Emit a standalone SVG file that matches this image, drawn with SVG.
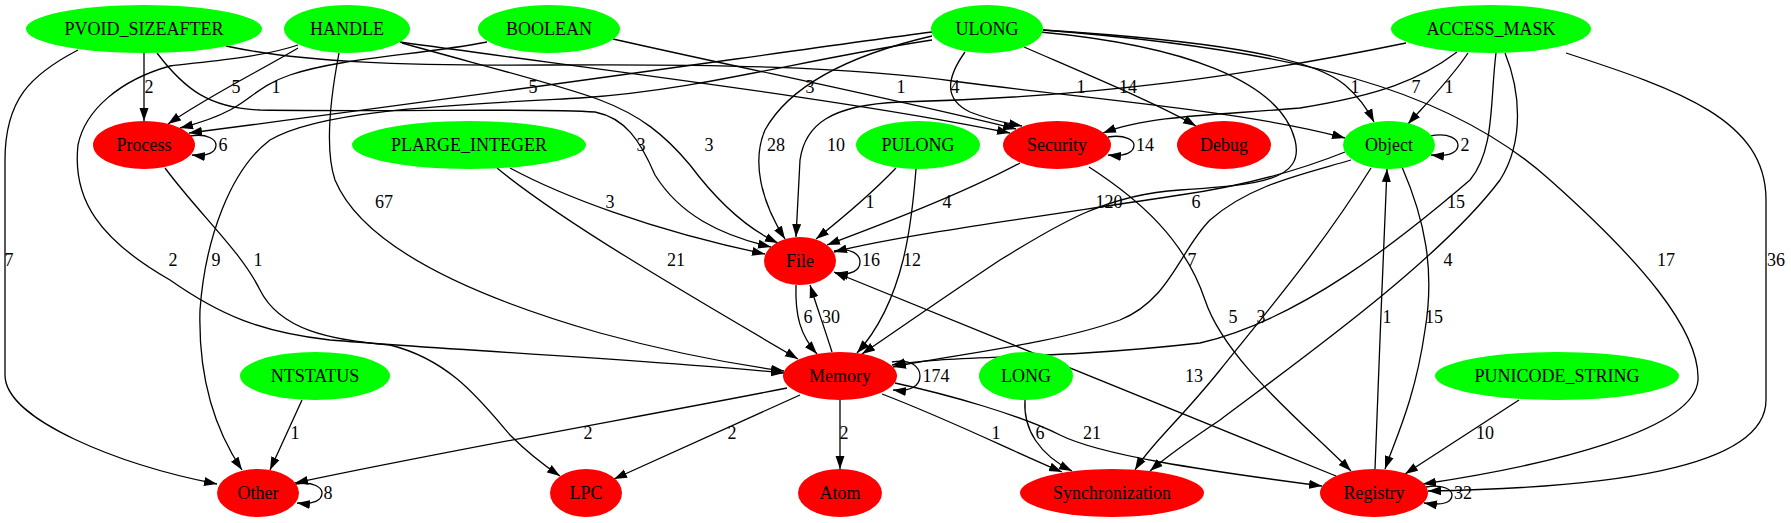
<svg xmlns="http://www.w3.org/2000/svg" width="1791" height="523" viewBox="0 0 1791 523">
<style>
text { font-family: "Liberation Serif", "Times New Roman", serif; font-size: 18px; text-anchor: middle; fill: #000; }
.g { fill: #00ff00; }
.r { fill: #ff0000; }
#edges path { fill: none; stroke: #000; stroke-width: 1.3; marker-end: url(#a); }
</style>
<defs>
<marker id="a" markerUnits="userSpaceOnUse" markerWidth="14" markerHeight="10" refX="13" refY="5" orient="auto">
<path d="M0,0.5 L13,5 L0,9.5 z" fill="#000"/>
</marker>
</defs>
<rect width="1791" height="523" fill="#fff"/>
<g id="edges">
<path d="M144,53 L144,121"/>
<path d="M78,50 C30,75 5,100 5,160 L5,375 C5,420 120,465 217,484"/>
<path d="M157,53 C185,90 210,108 260,110 C400,112 540,108 595,112 C625,118 640,140 655,175 C680,215 720,235 771,247"/>
<path d="M226,46 C300,62 400,66 550,65 C700,64 850,66 960,82 C1100,100 1250,112 1345,138"/>
<path d="M298,48 C265,68 210,95 168,124"/>
<path d="M298,45 C260,58 200,62 170,66 C120,80 85,110 78,145 C72,200 100,240 170,280 C220,315 260,332 330,340 C450,350 650,360 784,373"/>
<path d="M339,53 C330,100 325,150 335,180 C360,240 450,290 600,333 C680,355 740,365 784,371"/>
<path d="M487,42 C420,55 340,58 290,75 C260,85 250,100 230,110 C215,118 200,123 180,128"/>
<path d="M932,32 C780,52 560,85 189,133"/>
<path d="M932,40 C800,60 700,90 580,98 C450,105 320,110 270,140 C230,170 205,240 200,310 C198,380 215,430 242,470"/>
<path d="M400,42 C600,70 850,100 1010,133"/>
<path d="M402,43 C480,65 560,85 600,100 C640,115 665,135 690,165 C720,205 750,230 778,243"/>
<path d="M932,36 C850,55 790,85 765,130 C752,160 760,200 785,239"/>
<path d="M1406,43 C1250,75 1100,97 900,102 C830,105 805,125 800,160 L796,237"/>
<path d="M1457,52 C1420,80 1380,95 1300,108 C1220,115 1150,115 1103,133"/>
<path d="M1468,53 C1450,80 1425,105 1408,124"/>
<path d="M1043,30 C1200,40 1310,55 1345,85 C1360,98 1368,110 1374,122"/>
<path d="M1024,47 C1100,80 1160,105 1196,126"/>
<path d="M965,52 C945,80 945,100 970,112 C985,118 1000,122 1022,126"/>
<path d="M613,39 C750,70 900,100 1016,129"/>
<path d="M1040,32 C1180,45 1280,80 1295,140 C1305,180 1260,185 1180,190 C1100,195 1050,230 1000,260 C940,300 890,335 862,354"/>
<path d="M1043,30 C1300,50 1450,90 1550,180 C1640,260 1700,330 1698,380 C1695,430 1550,465 1423,484"/>
<path d="M1566,53 C1680,90 1766,120 1766,200 L1766,400 C1766,470 1600,488 1428,491"/>
<path d="M1496,53 C1490,100 1495,150 1470,180 C1400,240 1300,320 1200,343 C1050,360 950,355 892,365"/>
<path d="M1351,160 C1300,175 1250,185 1210,220 C1180,250 1170,300 1120,320 C1050,345 950,355 893,367"/>
<path d="M1345,152 C1300,170 1250,185 1180,195 C1050,215 900,235 834,252"/>
<path d="M1020,163 C960,195 880,225 827,245"/>
<path d="M896,168 C870,195 840,220 816,239"/>
<path d="M916,169 C912,220 905,300 857,353"/>
<path d="M510,168 C560,195 650,230 765,254"/>
<path d="M497,168 C560,220 680,290 798,359"/>
<path d="M796,285 C795,315 800,335 817,354"/>
<path d="M832,352 C825,330 818,310 810,285"/>
<path d="M1336,476 C1200,420 1000,340 834,272"/>
<path d="M834,251 C852,247 860,255 860,262 C860,270 852,276 835,273"/>
<path d="M892,362 C912,358 920,368 920,376 C920,386 910,392 893,390"/>
<path d="M190,136 C208,133 216,140 216,145 C216,152 208,157 192,155"/>
<path d="M1108,137 C1126,134 1134,141 1134,145 C1134,152 1126,157 1108,155"/>
<path d="M1430,136 C1450,132 1458,140 1458,145 C1458,152 1450,157 1431,155"/>
<path d="M296,484 C314,481 322,488 322,493 C322,500 314,505 297,503"/>
<path d="M1426,487 C1444,484 1452,490 1452,495 C1452,502 1444,506 1424,503"/>
<path d="M1375,469 C1378,400 1383,250 1387,169"/>
<path d="M1402,167 C1425,220 1435,270 1425,330 C1415,400 1395,440 1385,469"/>
<path d="M1371,168 C1320,250 1260,320 1220,370 C1180,420 1150,445 1135,470"/>
<path d="M1505,53 C1520,90 1525,140 1500,180 C1440,260 1300,360 1220,420 C1190,440 1165,458 1150,471"/>
<path d="M1089,167 C1140,200 1185,240 1205,300 C1225,360 1300,420 1351,471"/>
<path d="M895,383 C950,395 1020,415 1060,435 C1100,455 1200,470 1322,486"/>
<path d="M882,394 C950,420 1010,450 1062,472"/>
<path d="M1025,400 C1023,430 1040,455 1072,471"/>
<path d="M800,395 L614,479"/>
<path d="M840,400 L840,469"/>
<path d="M787,388 C650,415 450,450 295,483"/>
<path d="M302,400 L270,470"/>
<path d="M1519,400 L1405,474"/>
<path d="M165,168 C200,215 240,250 260,290 C280,330 330,340 390,345 C450,360 480,400 510,435 C530,455 545,466 560,476"/>
</g>
<g id="edge-labels">
<text x="149" y="93">2</text><text x="236" y="93">5</text><text x="276" y="93">1</text><text x="533" y="93">5</text>
<text x="810" y="93">3</text><text x="901" y="93">1</text><text x="955" y="93">4</text><text x="1081" y="93">1</text>
<text x="1128" y="93">14</text><text x="1355" y="93">1</text><text x="1416" y="93">7</text><text x="1449" y="93">1</text>
<text x="223" y="151">6</text><text x="641" y="151">3</text><text x="709" y="151">3</text><text x="776" y="151">28</text>
<text x="836" y="151">10</text><text x="1145" y="151">14</text><text x="1465" y="151">2</text>
<text x="384" y="208">67</text><text x="610" y="208">3</text><text x="870" y="208">1</text><text x="947" y="208">4</text>
<text x="1109" y="208">120</text><text x="1196" y="208">6</text><text x="1456" y="208">15</text>
<text x="9" y="266">7</text><text x="173" y="266">2</text><text x="216" y="266">9</text><text x="258" y="266">1</text>
<text x="676" y="266">21</text><text x="871" y="266">16</text><text x="912" y="266">12</text><text x="1192" y="266">7</text>
<text x="1448" y="266">4</text><text x="1666" y="266">17</text><text x="1776" y="266">36</text>
<text x="808" y="323">6</text><text x="831" y="323">30</text><text x="1233" y="323">5</text><text x="1261" y="323">3</text>
<text x="1387" y="323">1</text><text x="1434" y="323">15</text>
<text x="936" y="382">174</text><text x="1194" y="382">13</text>
<text x="295" y="439">1</text><text x="588" y="439">2</text><text x="732" y="439">2</text><text x="844" y="439">2</text>
<text x="996" y="439">1</text><text x="1040" y="439">6</text><text x="1092" y="439">21</text><text x="1485" y="439">10</text>
<text x="328" y="499">8</text><text x="1463" y="499">32</text>
</g>
<g id="PVOID_SIZEAFTER"><ellipse class="g" cx="144" cy="29" rx="118" ry="24"/><text x="144" y="35">PVOID_SIZEAFTER</text></g>
<g id="HANDLE"><ellipse class="g" cx="347" cy="29" rx="63" ry="24"/><text x="347" y="35">HANDLE</text></g>
<g id="BOOLEAN"><ellipse class="g" cx="549" cy="29" rx="71" ry="24"/><text x="549" y="35">BOOLEAN</text></g>
<g id="ULONG"><ellipse class="g" cx="987" cy="29" rx="56" ry="24"/><text x="987" y="35">ULONG</text></g>
<g id="ACCESS_MASK"><ellipse class="g" cx="1491" cy="29" rx="100" ry="24"/><text x="1491" y="35">ACCESS_MASK</text></g>
<g id="Process"><ellipse class="r" cx="144" cy="145" rx="51" ry="24"/><text x="144" y="151">Process</text></g>
<g id="PLARGE_INTEGER"><ellipse class="g" cx="469" cy="145" rx="117" ry="24"/><text x="469" y="151">PLARGE_INTEGER</text></g>
<g id="PULONG"><ellipse class="g" cx="918" cy="145" rx="62" ry="24"/><text x="918" y="151">PULONG</text></g>
<g id="Security"><ellipse class="r" cx="1057" cy="145" rx="54" ry="24"/><text x="1057" y="151">Security</text></g>
<g id="Debug"><ellipse class="r" cx="1224" cy="145" rx="47" ry="24"/><text x="1224" y="151">Debug</text></g>
<g id="Object"><ellipse class="g" cx="1389" cy="145" rx="46" ry="24"/><text x="1389" y="151">Object</text></g>
<g id="File"><ellipse class="r" cx="800" cy="261" rx="36" ry="24"/><text x="800" y="267">File</text></g>
<g id="NTSTATUS"><ellipse class="g" cx="315" cy="376" rx="75" ry="24"/><text x="315" y="382">NTSTATUS</text></g>
<g id="Memory"><ellipse class="r" cx="840" cy="376" rx="57" ry="24"/><text x="840" y="382">Memory</text></g>
<g id="LONG"><ellipse class="g" cx="1026" cy="376" rx="47" ry="24"/><text x="1026" y="382">LONG</text></g>
<g id="PUNICODE_STRING"><ellipse class="g" cx="1557" cy="376" rx="122" ry="24"/><text x="1557" y="382">PUNICODE_STRING</text></g>
<g id="Other"><ellipse class="r" cx="258" cy="493" rx="41" ry="24"/><text x="258" y="499">Other</text></g>
<g id="LPC"><ellipse class="r" cx="586" cy="493" rx="36" ry="24"/><text x="586" y="499">LPC</text></g>
<g id="Atom"><ellipse class="r" cx="840" cy="493" rx="42" ry="24"/><text x="840" y="499">Atom</text></g>
<g id="Synchronization"><ellipse class="r" cx="1112" cy="493" rx="92" ry="24"/><text x="1112" y="499">Synchronization</text></g>
<g id="Registry"><ellipse class="r" cx="1374" cy="493" rx="54" ry="24"/><text x="1374" y="499">Registry</text></g>
</svg>
